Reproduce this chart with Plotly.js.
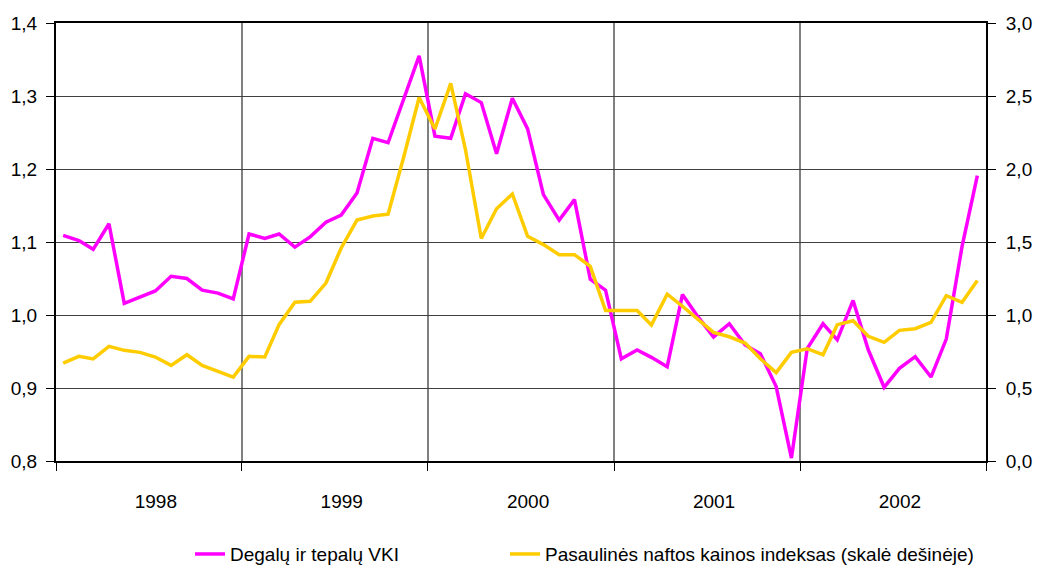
<!DOCTYPE html>
<html>
<head>
<meta charset="utf-8">
<script src="https://cdn.plot.ly/plotly-3.0.1.min.js"></script>
<style>
  html, body { margin: 0; padding: 0; background: #fff; }
  #chart { width: 1037px; height: 566px; }
</style>
</head>
<body>
<div id="chart"></div>
<script>
// ---- data (monthly, Jan 1998 – Dec 2002) ----
const years = [1998, 1999, 2000, 2001, 2002];
const yearLabels = ['1998', '1999', '2000', '2001', '2002'];

// Degalų ir tepalų VKI (left scale)
const vki = [
  1.109, 1.102, 1.090, 1.125, 1.016, 1.025, 1.033, 1.053, 1.050, 1.034, 1.030, 1.022,
  1.111, 1.105, 1.111, 1.093, 1.107, 1.127, 1.137, 1.167, 1.242, 1.236, 1.295, 1.355,
  1.245, 1.242, 1.303, 1.291, 1.221, 1.297, 1.255, 1.165, 1.130, 1.158, 1.049, 1.034,
  0.940, 0.952, 0.942, 0.929, 1.028, 0.997, 0.970, 0.988, 0.959, 0.947, 0.902, 0.804,
  0.954, 0.988, 0.966, 1.020, 0.952, 0.901, 0.927, 0.943, 0.915, 0.967, 1.094, 1.191
];

// Pasaulinės naftos kainos indeksas (right scale)
const oil = [
  0.671, 0.717, 0.699, 0.785, 0.758, 0.744, 0.712, 0.655, 0.728, 0.655, 0.614, 0.575,
  0.717, 0.712, 0.934, 1.087, 1.094, 1.219, 1.459, 1.650, 1.678, 1.690, 2.086, 2.490,
  2.274, 2.586, 2.132, 1.524, 1.728, 1.829, 1.539, 1.482, 1.413, 1.413, 1.333, 1.030,
  1.030, 1.030, 0.931, 1.143, 1.060, 0.965, 0.881, 0.851, 0.808, 0.700, 0.605, 0.744,
  0.769, 0.728, 0.934, 0.961, 0.854, 0.813, 0.895, 0.906, 0.950, 1.132, 1.087, 1.237
];

const seriesNames = ['Degalų ir tepalų VKI', 'Pasaulinės naftos kainos indeksas (skalė dešinėje)'];

// month categories as mid-month dates
const months = [];
years.forEach(y => {
  for (let m = 1; m <= 12; m++) {
    months.push(y + '-' + String(m).padStart(2, '0') + '-15');
  }
});
const yearTickPos = years.map(y => y + '-07-16');

const FONT = 'Liberation Sans, Arial, sans-serif';
const FS = 19;

const traces = [
  {
    x: months, y: vki, name: seriesNames[0], type: 'scatter', mode: 'lines',
    line: { color: '#FF00FF', width: 3.5 }, yaxis: 'y', legend: 'legend'
  },
  {
    x: months, y: oil, name: seriesNames[1], type: 'scatter', mode: 'lines',
    line: { color: '#FFCC00', width: 3.5 }, yaxis: 'y2', legend: 'legend2'
  }
];

const legendBase = {
  orientation: 'h', xref: 'container', yref: 'container',
  xanchor: 'left', yanchor: 'middle', y: 0.021,
  font: { family: FONT, size: FS, color: '#000' },
  bgcolor: 'rgba(0,0,0,0)', borderwidth: 0
};

const layout = {
  width: 1037, height: 566,
  margin: { l: 56, r: 51, t: 23, b: 105, pad: 0, autoexpand: false },
  paper_bgcolor: '#ffffff', plot_bgcolor: '#ffffff',
  separators: ',.',
  font: { family: FONT, size: FS, color: '#000' },
  showlegend: true,
  legend: Object.assign({}, legendBase, { x: 0.1832 }),
  legend2: Object.assign({}, legendBase, { x: 0.487 }),
  xaxis: {
    type: 'date',
    range: ['1998-01-01', '2003-01-01'],
    tickmode: 'array', tickvals: yearTickPos, ticktext: yearLabels,
    ticks: '', ticklabelstandoff: 22,
    showgrid: false, zeroline: false,
    showline: true, linecolor: '#000', linewidth: 2, mirror: true,
    tickfont: { family: FONT, size: FS, color: '#000' },
    minor: {
      tickmode: 'linear', tick0: '1998-01-01', dtick: 'M12',
      showgrid: true, gridcolor: '#808080', gridwidth: 1.5,
      ticks: 'outside', ticklen: 8, tickcolor: '#000', tickwidth: 1
    }
  },
  yaxis: {
    range: [0.8, 1.4], tick0: 0.8, dtick: 0.1, tickformat: '.1f',
    showgrid: true, gridcolor: '#404040', gridwidth: 1, zeroline: false,
    ticks: 'outside', ticklen: 8, tickcolor: '#000', tickwidth: 1,
    ticklabelstandoff: 5,
    showline: true, linecolor: '#000', linewidth: 2,
    tickfont: { family: FONT, size: FS, color: '#000' }
  },
  yaxis2: {
    range: [0, 3], tick0: 0, dtick: 0.5, tickformat: '.1f',
    overlaying: 'y', side: 'right',
    showgrid: false, zeroline: false,
    ticks: 'outside', ticklen: 8, tickcolor: '#000', tickwidth: 1,
    ticklabelstandoff: 6,
    showline: true, linecolor: '#000', linewidth: 2,
    tickfont: { family: FONT, size: FS, color: '#000' }
  }
};

Plotly.newPlot('chart', traces, layout, { displayModeBar: false, staticPlot: true });
</script>
</body>
</html>
